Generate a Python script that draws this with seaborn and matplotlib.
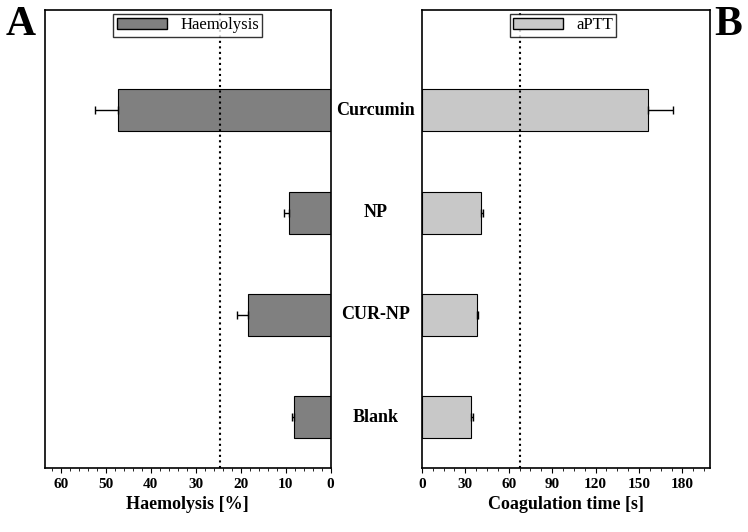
import matplotlib
matplotlib.use("Agg")
import matplotlib.pyplot as plt
import seaborn as sns
import pandas as pd
from matplotlib.patches import Patch

plt.rcParams["font.family"] = "Liberation Serif"

samples = ["Curcumin", "NP", "CUR-NP", "Blank"]
haemolysis = [47.3, 9.3, 18.4, 8.2]
haemolysis_err = [5.0, 1.0, 2.5, 0.3]
aptt = [156.5, 41.0, 38.0, 34.0]
aptt_err = [17.0, 1.5, 1.0, 1.0]
haemo_limit = 24.5
aptt_limit = 68

df = pd.DataFrame({"sample": samples, "haemo": haemolysis, "aptt": aptt})

fig = plt.figure(figsize=(7.48, 5.32), dpi=100)
axA = fig.add_axes([0.060, 0.120, 0.382, 0.861])
axB = fig.add_axes([0.564, 0.120, 0.385, 0.861])

sns.barplot(data=df, x="haemo", y="sample", orient="h", color="#808080",
            edgecolor="black", linewidth=0.8, width=0.41, ax=axA, saturation=1)
axA.errorbar(haemolysis, range(4), xerr=[[0] * 4, haemolysis_err], fmt="none",
             ecolor="black", elinewidth=1, capsize=3)
sns.barplot(data=df, x="aptt", y="sample", orient="h", color="#c8c8c8",
            edgecolor="black", linewidth=0.8, width=0.41, ax=axB, saturation=1)
axB.errorbar(aptt, range(4), xerr=[[0] * 4, aptt_err], fmt="none",
             ecolor="black", elinewidth=1, capsize=3)

axA.set_xlim(63.5, 0)
axA.set_xticks(range(0, 61, 10))
axB.set_xlim(0, 199)
axB.set_xticks(range(0, 181, 30))
for ax in (axA, axB):
    ax.set_ylim(3.5, -0.98)
    ax.set_yticks([])
    ax.set_ylabel("")
    ax.minorticks_on()
    ax.tick_params(axis="y", which="both", left=False, right=False)
    ax.tick_params(axis="x", labelsize=11)
    for lab in ax.get_xticklabels():
        lab.set_fontweight("bold")
    for s in ax.spines.values():
        s.set_linewidth(1.2)

axA.axvline(haemo_limit, color="black", ls=":", lw=1.5)
axB.axvline(aptt_limit, color="black", ls=":", lw=1.5)
axA.set_xlabel("Haemolysis [%]", fontsize=13, fontweight="bold")
axB.set_xlabel("Coagulation time [s]", fontsize=13, fontweight="bold")

axA.legend(handles=[Patch(facecolor="#808080", edgecolor="black", label="Haemolysis")],
           loc="upper center", bbox_to_anchor=(0.50, 1.01), fontsize=12,
           fancybox=False, edgecolor="black", handlelength=3, borderpad=0.2)
axB.legend(handles=[Patch(facecolor="#c8c8c8", edgecolor="black", label="aPTT")],
           loc="upper center", bbox_to_anchor=(0.49, 1.01), fontsize=12,
           fancybox=False, edgecolor="black", handlelength=3, borderpad=0.2)

for i, s in enumerate(samples):
    axA.annotate(s, xy=(1.157, i), xycoords=("axes fraction", "data"),
                 ha="center", va="center", fontsize=13, fontweight="bold",
                 annotation_clip=False)

fig.text(0.008, 0.935, "A", fontsize=30, fontweight="bold")
fig.text(0.955, 0.935, "B", fontsize=30, fontweight="bold")

fig.savefig("out.png", dpi=100)
